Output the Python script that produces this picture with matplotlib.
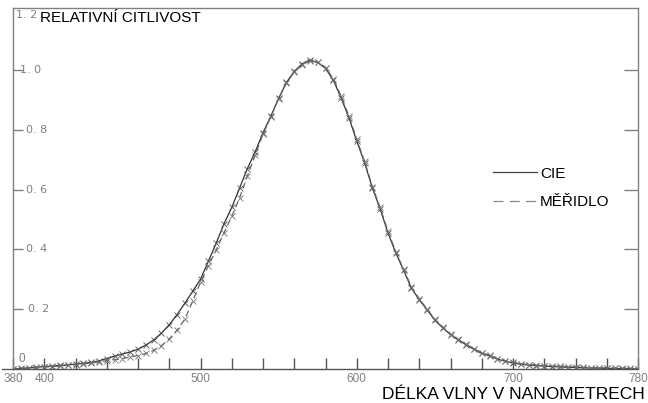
import matplotlib
matplotlib.use("Agg")
import matplotlib.pyplot as plt
from matplotlib.lines import Line2D

# wavelengths in nm, 5 nm step
wavelengths = list(range(380, 785, 5))

cie = [0.000, 0.002, 0.004, 0.006, 0.008, 0.010, 0.012, 0.014, 0.016, 0.019,
       0.022, 0.027, 0.035, 0.043, 0.050, 0.057, 0.066, 0.080, 0.097, 0.120,
       0.148, 0.182, 0.220, 0.260, 0.300, 0.360, 0.420, 0.485, 0.540, 0.605,
       0.670, 0.726, 0.790, 0.845, 0.905, 0.958, 0.995, 1.020, 1.033, 1.025,
       1.005, 0.966, 0.906, 0.840, 0.762, 0.690, 0.605, 0.535, 0.455, 0.388,
       0.330, 0.270, 0.232, 0.198, 0.163, 0.138, 0.115, 0.097, 0.081, 0.066,
       0.052, 0.044, 0.033, 0.026, 0.020, 0.016, 0.013, 0.011, 0.010, 0.008,
       0.007, 0.006, 0.005, 0.004, 0.003, 0.003, 0.002, 0.002, 0.001, 0.001,
       0.000]

meridlo = [0.000, 0.001, 0.002, 0.004, 0.006, 0.008, 0.010, 0.012, 0.014, 0.017,
           0.020, 0.024, 0.028, 0.031, 0.035, 0.040, 0.045, 0.052, 0.062, 0.078,
           0.100, 0.130, 0.167, 0.227, 0.290, 0.345, 0.397, 0.455, 0.510, 0.572,
           0.645, 0.715, 0.785, 0.843, 0.903, 0.955, 0.993, 1.018, 1.030, 1.026,
           1.008, 0.970, 0.912, 0.846, 0.768, 0.694, 0.610, 0.540, 0.460, 0.392,
           0.333, 0.274, 0.235, 0.200, 0.166, 0.140, 0.117, 0.099, 0.083, 0.068,
           0.054, 0.046, 0.035, 0.028, 0.022, 0.018, 0.015, 0.013, 0.011, 0.010,
           0.009, 0.008, 0.007, 0.006, 0.005, 0.004, 0.004, 0.003, 0.003, 0.002,
           0.000]

x_ticks = list(range(380, 781, 20))
x_labels = {380: "380", 400: "400", 500: "500", 600: "600", 700: "700", 780: "780"}
y_ticks = [0.2, 0.4, 0.6, 0.8, 1.0]
y_labels = ["0. 2", "0. 4", "0. 6", "0. 8", "1. 0"]

gray = "#808080"
fig = plt.figure(figsize=(6.48, 4.03), dpi=100)
ax = fig.add_axes([13 / 648, 34 / 403, 625 / 648, 361 / 403])
ax.set_xlim(380, 780)
ax.set_ylim(0, 1.207)

ax.plot(wavelengths, cie, color="#333333", lw=0.9, marker="x", ms=4.5,
        mec="#555555", mew=0.6)
ax.plot(wavelengths, meridlo, color="#666666", lw=0.9, ls=(0, (5, 3)), marker="x",
        ms=4.5, mec="#777777", mew=0.6)

for s in ax.spines.values():
    s.set_color(gray)
    s.set_linewidth(1)
ax.spines["bottom"].set_color("#555555")
ax.plot([373, 380], [0, 0], color="#555555", lw=1, clip_on=False)

ax.set_xticks(x_ticks)
ax.set_xticklabels([])
ax.tick_params(axis="x", direction="in", length=8, color="#555555", width=1)
ax.set_yticks(y_ticks)
ax.set_yticklabels([])
ax.tick_params(axis="y", direction="in", length=7, color=gray, width=1,
               right=True)
for t in ax.yaxis.get_major_ticks():
    t.tick2line.set_markersize(10)

xf = ax.get_xaxis_transform()
for v, lab in x_labels.items():
    ax.text(v, -0.012, lab, transform=xf, ha="center", va="top", fontsize=8.5,
            color=gray, family="Liberation Sans")

yf = ax.get_yaxis_transform()
offs = [0.024, 0.02, 0.02, 0.02, 0.011]
for v, lab, o in zip(y_ticks, y_labels, offs):
    ax.text(o, v, lab, transform=yf, ha="left", va="center", fontsize=8,
            color=gray, family="DejaVu Sans")
ax.text(0.004, 1.185, "1. 2", transform=yf, ha="left", va="center", fontsize=8,
        color=gray, family="DejaVu Sans")
ax.text(0.009, 0.035, "0", transform=yf, ha="left", va="center", fontsize=8.5,
        color=gray, family="Liberation Sans")

ax.text(0.043, 1.175, "RELATIVNÍ CITLIVOST", transform=yf, ha="left",
        va="center", fontsize=11, family="Liberation Sans", color="black")
fig.text(645 / 648, 1 / 403, "DÉLKA VLNY V NANOMETRECH", ha="right",
         va="bottom", fontsize=12.5, family="Liberation Sans", color="black")

handles = [Line2D([], [], color="#444444", lw=0.9),
           Line2D([], [], color="#888888", lw=0.9, ls=(0, (8, 5)))]
ax.legend(handles, ["CIE", "MĚŘIDLO"], loc="center left",
          bbox_to_anchor=(466 / 625, 0.502), frameon=False, handlelength=2.9,
          handletextpad=0.2, labelspacing=0.95,
          prop={"family": "Liberation Sans", "size": 11})

fig.savefig("out.png", dpi=100)
